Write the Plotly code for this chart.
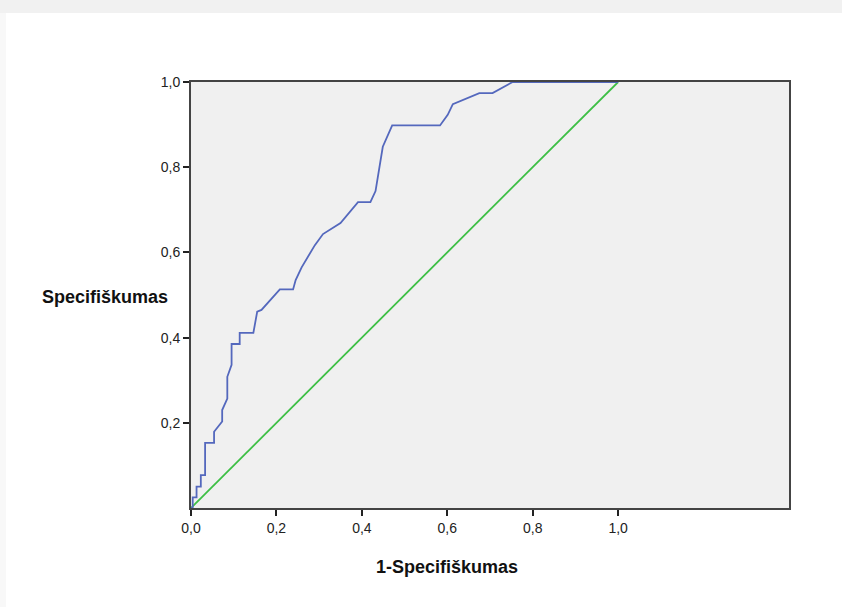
import plotly.graph_objects as go

# ROC curve (1 - specificity, sensitivity)
fpr = [0.0, 0.004, 0.004, 0.013, 0.013, 0.023, 0.023, 0.033, 0.033, 0.054,
       0.054, 0.073, 0.073, 0.085, 0.085, 0.095, 0.095, 0.114, 0.114, 0.146,
       0.155, 0.165, 0.208, 0.239, 0.245, 0.259, 0.290, 0.309, 0.350, 0.391,
       0.420, 0.432, 0.449, 0.471, 0.583, 0.601, 0.613, 0.636, 0.675, 0.706,
       0.753, 1.0]
tpr = [0.0, 0.0, 0.025, 0.025, 0.05, 0.05, 0.077, 0.077, 0.153, 0.153,
       0.179, 0.203, 0.23, 0.257, 0.308, 0.336, 0.385, 0.385, 0.411, 0.411,
       0.461, 0.465, 0.513, 0.513, 0.535, 0.565, 0.617, 0.643, 0.669, 0.718,
       0.718, 0.744, 0.848, 0.898, 0.898, 0.923, 0.948, 0.958, 0.974, 0.974,
       1.0, 1.0]

ref_x = [0.0, 1.0]
ref_y = [0.0, 1.0]

x_ticks = [0.0, 0.2, 0.4, 0.6, 0.8, 1.0]
x_tick_labels = ["0,0", "0,2", "0,4", "0,6", "0,8", "1,0"]
y_ticks = [0.2, 0.4, 0.6, 0.8, 1.0]
y_tick_labels = ["0,2", "0,4", "0,6", "0,8", "1,0"]

x_title = "1-Specifiškumas"
y_title = "Specifiškumas"

fig = go.Figure()
fig.add_trace(go.Scatter(x=ref_x, y=ref_y, mode="lines",
                         line=dict(color="#3dbf45", width=1.8),
                         showlegend=False, hoverinfo="skip"))
fig.add_trace(go.Scatter(x=fpr, y=tpr, mode="lines",
                         line=dict(color="#5468bd", width=1.8),
                         showlegend=False))

font_family = "Liberation Sans, Arial, sans-serif"

fig.update_layout(
    width=842, height=607, autosize=False,
    margin=dict(l=191, r=53, t=82, b=99),
    paper_bgcolor="white",
    plot_bgcolor="#f0f0f0",
    font=dict(family=font_family, size=14, color="#222222"),
    xaxis=dict(range=[0, 1.4], tickvals=x_ticks, ticktext=x_tick_labels,
               showgrid=False, zeroline=False, showline=True, mirror=True,
               linecolor="#444444", linewidth=2, ticks="outside", ticklen=6,
               tickwidth=2, tickcolor="#222222",
               tickfont=dict(size=14, color="#222222")),
    yaxis=dict(range=[0, 1], tickvals=y_ticks, ticktext=y_tick_labels,
               showgrid=False, zeroline=False, showline=True, mirror=True,
               linecolor="#444444", linewidth=2, ticks="outside", ticklen=6,
               tickwidth=2, tickcolor="#222222",
               tickfont=dict(size=14, color="#222222")),
    annotations=[
        dict(text=f"<b>{y_title}</b>", xref="paper", yref="paper",
             x=(105 - 191) / 598, y=(508 - 297) / 426, showarrow=False,
             xanchor="center", yanchor="middle",
             font=dict(size=18, color="#111111", family=font_family)),
        dict(text=f"<b>{x_title}</b>", xref="paper", yref="paper",
             x=(447 - 191) / 598, y=(508 - 567) / 426, showarrow=False,
             xanchor="center", yanchor="middle",
             font=dict(size=18, color="#111111", family=font_family)),
    ],
    shapes=[
        dict(type="rect", xref="paper", yref="paper", layer="below",
             x0=-0.4, x1=1.2, y0=(508 - 13) / 426, y1=(508 + 2) / 426,
             fillcolor="#f1f1f1", line=dict(width=0)),
        dict(type="rect", xref="paper", yref="paper", layer="below",
             x0=(0 - 191) / 598, x1=(6 - 191) / 598,
             y0=(508 - 607) / 426, y1=(508 - 13) / 426,
             fillcolor="#f8f8f8", line=dict(width=0)),
    ],
)

fig.write_html("out.html")
